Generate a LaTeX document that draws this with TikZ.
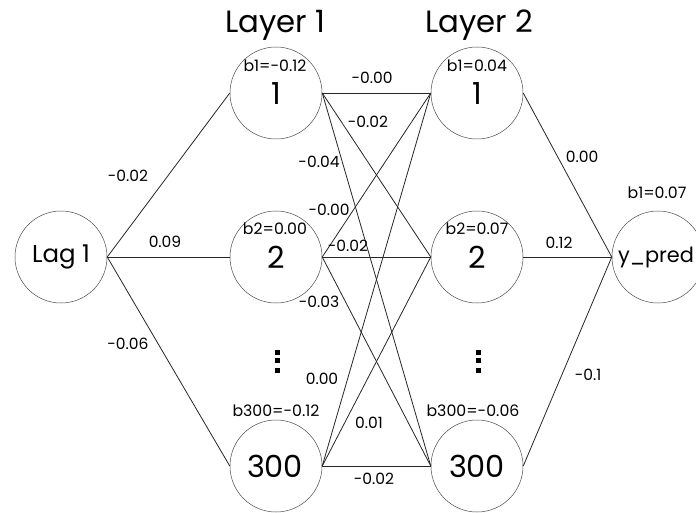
\documentclass[tikz,border=0pt]{standalone}
\usepackage{fontspec}
\setmainfont{Poppins}
\newlength\mymeasure
\newcommand\fitsize[3]{%
  \settowidth\mymeasure{\fontsize{10}{12}\selectfont #3}%
  \pgfmathsetmacro#1{10*#2/\mymeasure}}
\begin{document}
\fitsize{\titlesz}{100}{Layer 1}%
\fitsize{\lagsz}{58}{Lag 1}%
\fitsize{\predsz}{76}{y\_pred}%
\fitsize{\biassz}{63}{b1=-0.12}%
\fitsize{\wsz}{41}{-0.00}%
\fitsize{\numsz}{56}{300}%
\begin{tikzpicture}[x=1pt,y=-1pt,
  neuron/.style={circle,draw=black!70,line width=0.5pt,minimum size=92pt,inner sep=0pt},
  wire/.style={draw=black!85,line width=0.8pt},
  num/.style={font=\fontsize{\numsz}{\numsz}\selectfont,inner sep=0pt,anchor=base},
  bias/.style={font=\fontsize{\biassz}{\biassz}\selectfont,inner sep=0pt,anchor=base},
  wlbl/.style={font=\fontsize{\wsz}{\wsz}\selectfont,inner sep=0pt},
  title/.style={font=\fontsize{\titlesz}{\titlesz}\selectfont,inner sep=0pt,anchor=base},
  dotsq/.style={fill=black,minimum size=5pt,inner sep=0pt}]
\useasboundingbox (0,0) rectangle (696,513);
\begin{scope}
\clip (0,0) rectangle (696,513);
% neurons
\node[neuron] (in) at (61,257) {};
\node[neuron] (a1) at (276,93) {};
\node[neuron] (a2) at (276,257) {};
\node[neuron] (a3) at (276,466) {};
\node[neuron] (b1) at (477,93) {};
\node[neuron] (b2) at (477,257) {};
\node[neuron] (b3) at (477,466) {};
\node[neuron] (out) at (658,257) {};
\end{scope}
% texts in nodes
\node[font=\fontsize{\lagsz}{\lagsz}\selectfont,inner sep=0pt,anchor=base] at (61,262) {Lag 1};
\node[num] at (276,105) {1};
\node[num] at (276,268) {2};
\node[num] at (275,477) {300};
\node[num] at (477,105) {1};
\node[num] at (477,268) {2};
\node[num] at (477,477) {300};
\node[font=\fontsize{\predsz}{\predsz}\selectfont,inner sep=0pt,anchor=base] at (656,262) {y\_pred};
% titles
\node[title] (t1) at (275,33) {Layer 1};
\node[title] (t2) at (479,33) {Layer 2};
% biases
\node[bias] at (275,72) {b1=-0.12};
\node[bias] at (477,72) {b1=0.04};
\node[bias] at (275,234) {b2=0.00};
\node[bias] at (477,234) {b2=0.07};
\node[bias] at (276,416) {b300=-0.12};
\node[bias] at (473,416) {b300=-0.06};
\node[bias] at (657,199) {b1=0.07};
% connectors
\foreach \t in {a1,a2,a3} \draw[wire] (in.east) -- (\t.west);
\foreach \s in {a1,a2,a3} \foreach \t in {b1,b2,b3} \draw[wire] (\s.east) -- (\t.west);
\foreach \s in {b1,b2,b3} \draw[wire] (\s.east) -- (out.west);
% weight labels
\node[wlbl] at (128,176) {-0.02};
\node[wlbl] at (165,242) {0.09};
\node[wlbl] at (128,344) {-0.06};
\node[wlbl] at (372,78) {-0.00};
\node[wlbl] at (368,122) {-0.02};
\node[wlbl] at (319,162) {-0.04};
\node[wlbl] at (329,210) {-0.00};
\node[wlbl] at (348,246) {-0.02};
\node[wlbl] at (319,302) {-0.03};
\node[wlbl] at (322,379) {0.00};
\node[wlbl] at (369,423) {0.01};
\node[wlbl] at (374,479) {-0.02};
\node[wlbl] at (582,157) {0.00};
\node[wlbl] at (559,243) {0.12};
\node[wlbl] at (588,375) {-0.1};
% vertical dots
\foreach \x in {277.5,478.5} \foreach \y in {352.5,360.5,370.5} \node[dotsq] at (\x,\y) {};
\end{tikzpicture}
\end{document}
